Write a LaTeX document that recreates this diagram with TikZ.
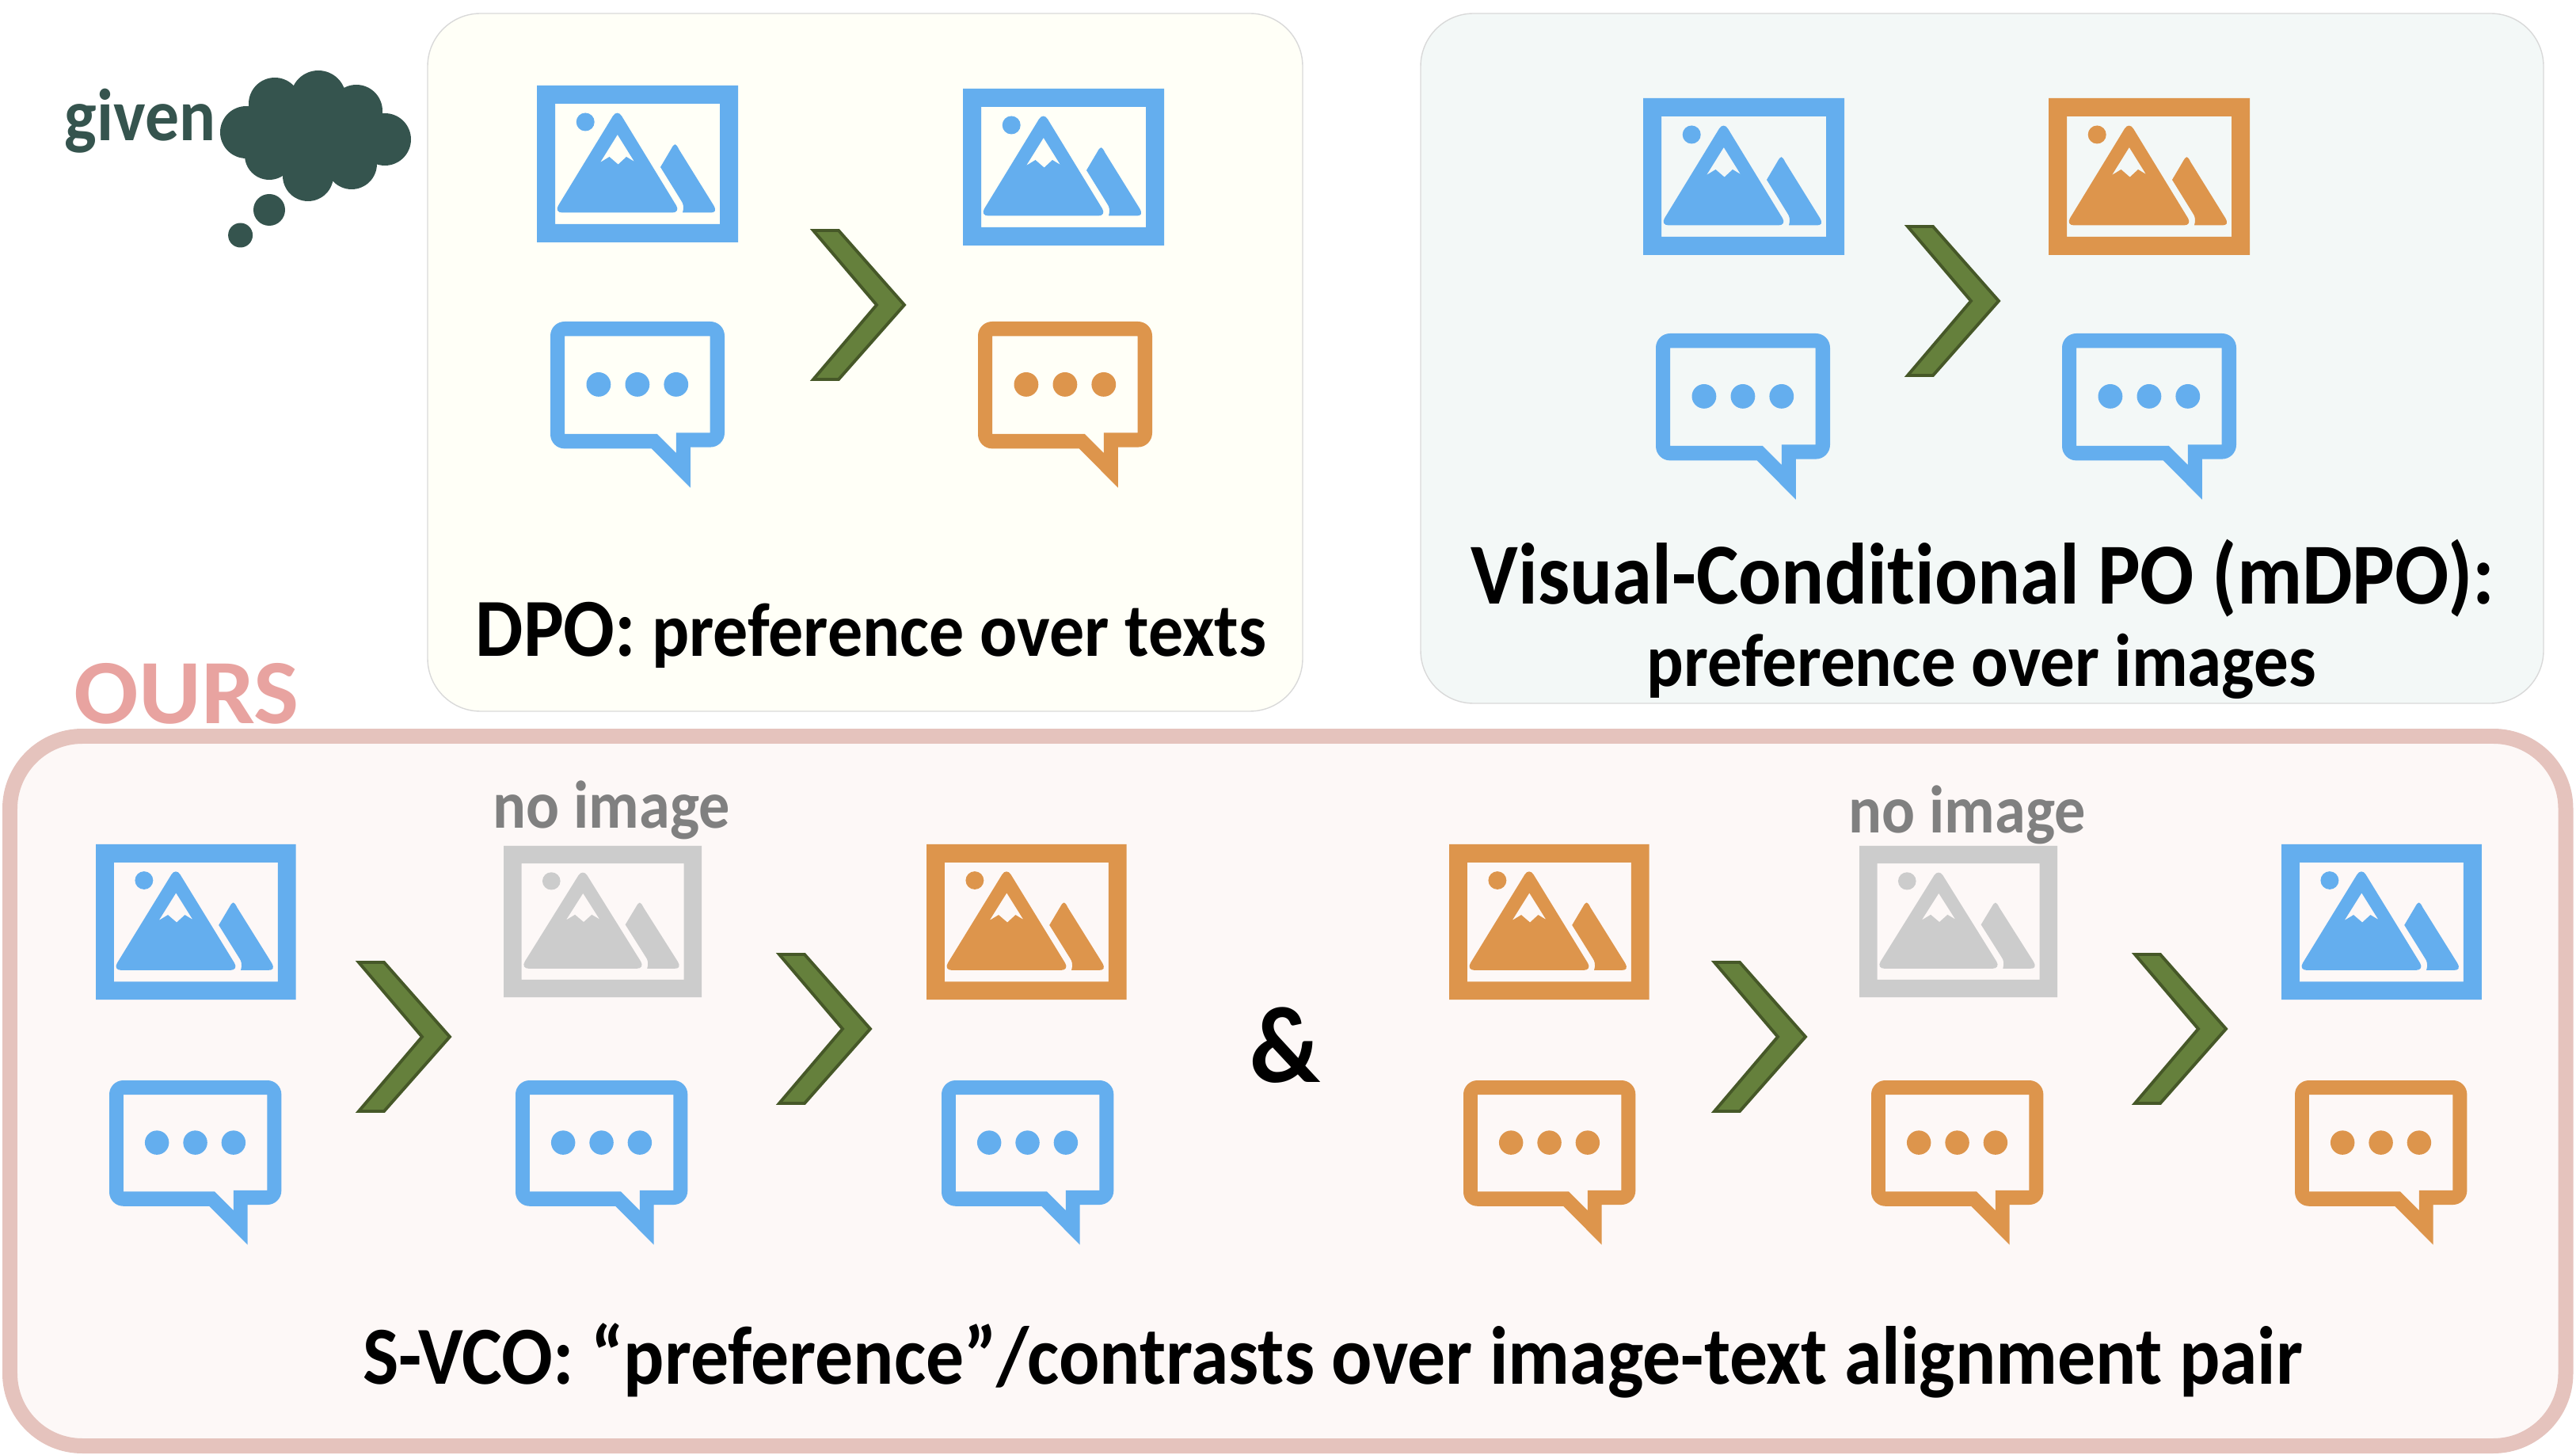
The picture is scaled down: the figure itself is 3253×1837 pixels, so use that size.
\documentclass[tikz,border=0pt]{standalone}
\usepackage{fontspec}
\setmainfont[FakeStretch=0.92,Ligatures=NoCommon]{Carlito}
\definecolor{iconblue}{RGB}{100,174,238}
\definecolor{iconorange}{RGB}{221,149,76}
\definecolor{icongrey}{RGB}{204,204,204}
\definecolor{chevfill}{RGB}{101,128,60}
\definecolor{chevline}{RGB}{70,88,40}
\definecolor{cloudcol}{RGB}{53,84,78}
\definecolor{oursred}{RGB}{232,163,160}
\definecolor{oursline}{RGB}{229,195,189}
\definecolor{oursfill}{RGB}{253,248,247}
\tikzset{
    txt/.style={inner sep=0pt,anchor=base west,font=\bfseries\fontsize{27.2}{30}\selectfont},
    chev/.style={fill=chevfill,draw=chevline,line width=1.1pt,line join=miter},
    panel/.style={draw=black!15,line width=0.4pt,rounded corners=19pt},
    lowimg/.style={xscale=.995,yscale=.99},
    lowtxt/.style={xscale=.988,yscale=.99},
    greyrow/.style={xscale=.985,yscale=.965}
}
% image icon: options, x, y of the top left corner, colour
\newcommand{\imgicon}[4][]{
    \begin{scope}[shift={(#2,#3)},#1]
        \fill[#4,even odd rule] (0,0) rectangle (254,198) (23,23) rectangle (231,175);
        \fill[#4] (61.2,46) circle (11.5);
        \fill[#4,even odd rule,rounded corners=3pt] (101.5,29.4) -- (21.5,160.5) -- (181.5,160.5) -- cycle
            [sharp corners] (101.8,62) -- (80,97) -- (91.5,90) -- (102.6,99.6) -- (113,90) -- (123,96) -- cycle;
        \fill[#4] (156,103) -- (169,81) .. controls (174,72) and (175,72) .. (179.6,81) -- (223,151) .. controls (227,158) and (225,160.5) .. (219,160.5) -- (184,160.5) .. controls (186,154) and (185,149) .. (182,145) -- cycle;
    \end{scope}
}
% speech bubble: options, x, y of the top left corner, colour
\newcommand{\txticon}[4][]{
    \begin{scope}[shift={(#2,#3)},#1]
        \fill[#4,even odd rule] (18,0) -- (202,0) .. controls (212,0) and (220,8) .. (220,18) -- (220,140.6) .. controls (220,150.6) and (212,158.6) .. (202,158.6)
            -- (176.8,158.6) -- (176.8,209.7) -- (127.8,160.4) -- (18,160.4) .. controls (8,160.4) and (0,152.4) .. (0,142.4) -- (0,18) .. controls (0,8) and (8,0) .. (18,0) -- cycle
            (18,18.3) -- (201.7,18.3) -- (201.7,140.4) -- (158.8,140.4) -- (158.8,166) -- (134.7,141.9) -- (18,141.9) -- cycle;
        \fill[#4] (60.9,79.4) circle (15.4) (109.9,79.4) circle (15.4) (158.8,79.4) circle (15.4);
    \end{scope}
}
% chevron: x, y of the top left corner
\newcommand{\chevron}[2]{
    \draw[chev,shift={(#1,#2)}] (5,2) -- (37,2) -- (120,96) -- (37,190) -- (5,190) -- (85,96) -- cycle;
}
\begin{document}
\begin{tikzpicture}[x=0.01cm,y=-0.01cm]
    \useasboundingbox (0,0) rectangle (3253,1837);
    % panels
    \draw[panel,fill=yellow!3] (540,17) rectangle (1645,898);
    \draw[panel,fill={rgb,255:red,243;green,248;blue,247}] (1794,17) rectangle (3212,888);
    \draw[draw=oursline,fill=oursfill,line width=5.4pt,rounded corners=26pt] (12.5,929.5) rectangle (3240,1825.5);
    % given
    \fill[cloudcol] (311,167) circle (33) (347,131) circle (33) (402,124) circle (35) (450,140) circle (33)
        (486,176) circle (33) (444,207) circle (32) (389,222) circle (32) (340,196) circle (31) (400,170) circle (60);
    \fill[cloudcol] (340,265) circle (20) (303.6,297) circle (15.5);
    \node[txt,text=cloudcol,font=\bfseries\fontsize{26.5}{30}\selectfont] (given) at (81,178) {given};
    % DPO
    \imgicon{678}{108}{iconblue}
    \imgicon{1216}{112}{iconblue}
    \txticon{695}{406}{iconblue}
    \txticon{1235}{406}{iconorange}
    \chevron{1022}{289}
    \node[txt] (dpo) at (600,829) {{\fontsize{29.6}{30}\selectfont DPO:} preference over texts};
    % mDPO
    \imgicon{2075}{124}{iconblue}
    \imgicon{2587}{124}{iconorange}
    \txticon{2091}{421}{iconblue}
    \txticon{2604}{421}{iconblue}
    \chevron{2404}{284}
    \node[txt,font=\bfseries\fontsize{31.2}{30}\selectfont] (mdpo) at (1857,763) {Visual-Conditional PO (mDPO):};
    \node[txt,font=\bfseries\fontsize{26.9}{30}\selectfont] (mdpotwo) at (2079,867) {preference over images};
    % ours
    \node[txt,text=oursred,font=\bfseries\fontsize{33}{30}\selectfont\addfontfeature{FakeStretch=1.04}] (ours) at (93,914) {OURS};
    \imgicon[lowimg]{121}{1066}{iconblue}
    \imgicon[greyrow]{636}{1068}{icongrey}
    \imgicon[lowimg]{1170}{1066}{iconorange}
    \imgicon[lowimg]{1830}{1066}{iconorange}
    \imgicon[greyrow]{2348}{1068}{icongrey}
    \imgicon[lowimg]{2881}{1066}{iconblue}
    \txticon[lowtxt]{138}{1364}{iconblue}
    \txticon[lowtxt]{651}{1364}{iconblue}
    \txticon[lowtxt]{1189}{1364}{iconblue}
    \txticon[lowtxt]{1848}{1364}{iconorange}
    \txticon[lowtxt]{2363}{1364}{iconorange}
    \txticon[lowtxt]{2898}{1364}{iconorange}
    \chevron{448}{1213}
    \chevron{979}{1203}
    \chevron{2160}{1213}
    \chevron{2691}{1203}
    \node[txt,text=black!50,font=\bfseries\fontsize{24.2}{30}\selectfont] (noimgone) at (622,1046) {no image};
    \node[txt,text=black!50,font=\bfseries\fontsize{24.2}{30}\selectfont] (noimgtwo) at (2334,1052) {no image};
    \node[txt,font=\bfseries\fontsize{39}{36}\selectfont] (amp) at (1578,1366) {\&};
    \node[txt,font=\bfseries\fontsize{29.6}{30}\selectfont] (svco) at (458,1747) {S-VCO: “preference”/contrasts over image-text alignment pair};
\end{tikzpicture}
\end{document}
